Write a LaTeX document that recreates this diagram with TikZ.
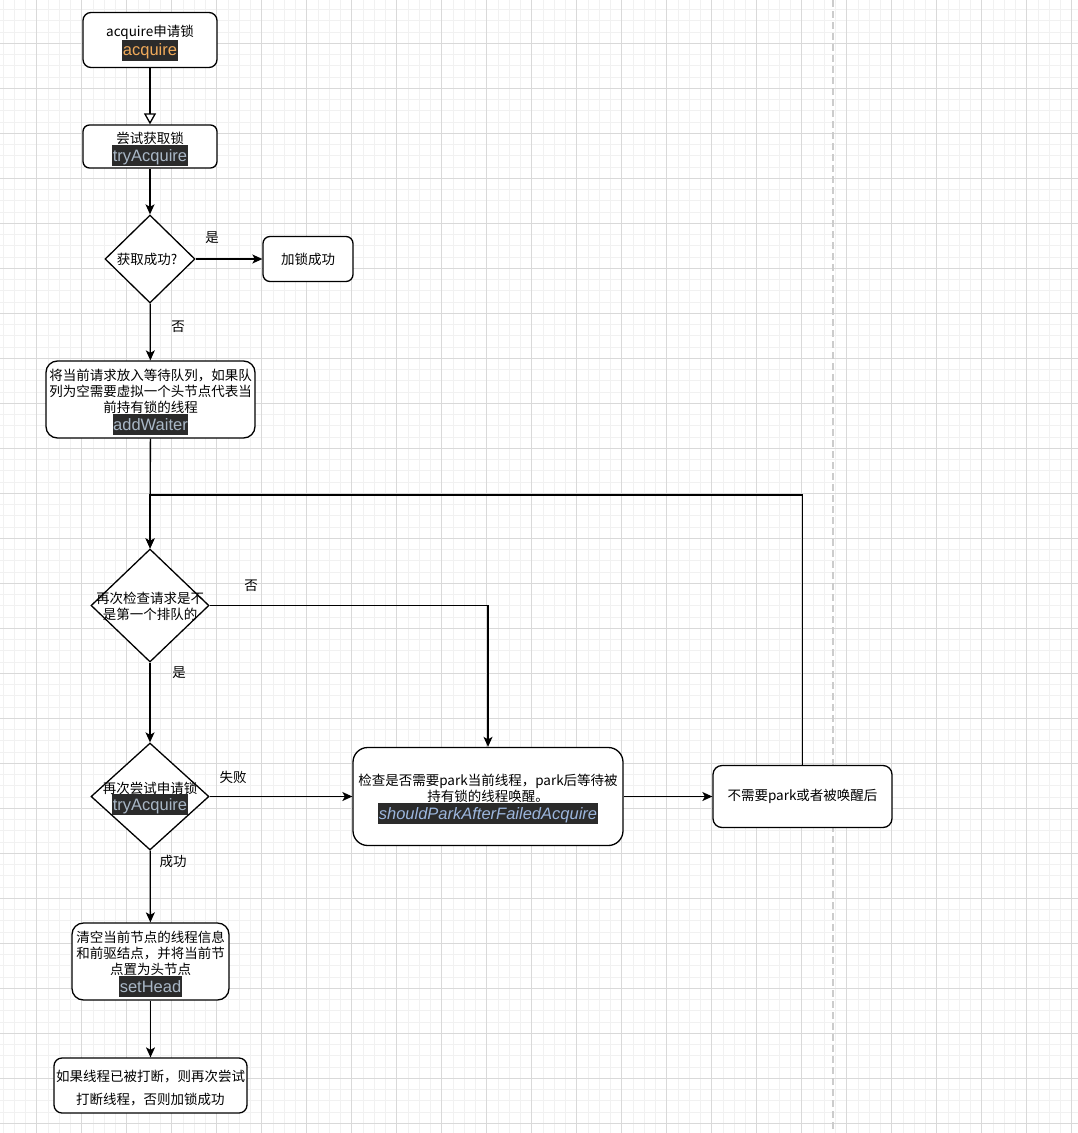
\documentclass[tikz,border=0pt]{standalone}
\usepackage{fontspec}
\setmainfont{Noto Sans CJK SC}
\newfontfamily\codefont{Liberation Sans}
\usetikzlibrary{shapes.geometric,arrows.meta}
\definecolor{codebg}{HTML}{2B2B2B}
\definecolor{codefg}{HTML}{A9B7C6}
\definecolor{spfg}{HTML}{9CB6DD}
\definecolor{codeorange}{HTML}{F0AA5A}
\definecolor{gridminor}{HTML}{F1F1F1}
\definecolor{gridmajor}{HTML}{D9D9D9}
\definecolor{dashgray}{HTML}{CCCCCC}
\newcommand\hlcode[2]{{\setlength{\fboxsep}{0.5pt}\colorbox{codebg}{\codefont\fontsize{16.5}{19}\selectfont\color{#1}\rule[-4.5pt]{0pt}{20pt}#2}}}
\newcommand\basefont{\fontsize{13.5}{16}\selectfont\lineskip=0pt\relax}
\newcommand\toppad{\rule{0pt}{17pt}}
\begin{document}
\begin{tikzpicture}[x=1pt,y=-1pt,
  every node/.style={font=\basefont},
  box/.style={draw, line width=1.3pt, rounded corners=#1, fill=white, inner sep=0pt, align=center},
  box/.default=8pt,
  dia/.style={draw, diamond, line width=1.3pt, fill=white, inner sep=0pt},
  txt/.style={align=center, inner sep=0pt},
  lbl/.style={inner sep=0pt},
  arr/.style={line width=1.3pt, -{Stealth[length=10pt, width=9pt, inset=2.5pt]}},
  openarr/.style={line width=1.3pt, -{Triangle[length=11pt, width=12pt, fill=white, line width=1.3pt]}}
]
\useasboundingbox (0,0) rectangle (1078,1133);
\fill[white] (0,0) rectangle (1078,1133);
% grid
\foreach \i in {0,...,95} \draw[gridminor, line width=0.8pt] ({2.95+11.25*\i},0) -- ++(0,1133);
\foreach \j in {0,...,100} \draw[gridminor, line width=0.8pt] (0,{9.55+11.25*\j}) -- ++(1078,0);
\foreach \i in {0,...,23} \draw[gridmajor, line width=0.8pt] ({36.7+45*\i},0) -- ++(0,1133);
\foreach \j in {0,...,24} \draw[gridmajor, line width=0.8pt] (0,{43.3+45*\j}) -- ++(1078,0);
\draw[dashgray, line width=2pt, dash pattern=on 7pt off 4pt] (833,0) -- (833,1133);

% nodes
\node[box=8pt, minimum width=134pt, minimum height=55pt] (acq) at (150,40) {\toppad acquire申请锁\\\hlcode{codeorange}{acquire}};
\node[box=6.5pt, minimum width=134pt, minimum height=43pt] (try) at (150,146.5) {\toppad 尝试获取锁\\\hlcode{codefg}{tryAcquire}};
\node[dia, minimum width=90pt, minimum height=88pt] (d1) at (150,259) {};
\node[txt] (d1t) at (147,259) {获取成功?};
\node[box=7pt, minimum width=90pt, minimum height=45pt] (ok) at (308,259) {加锁成功};
\node[box=11.5pt, minimum width=209pt, minimum height=77pt] (aw) at (150.5,399.5) {\toppad 将当前请求放入等待队列，如果队\\列为空需要虚拟一个头节点代表当\\前持有锁的线程\\\hlcode{codefg}{addWaiter}};
\node[dia, minimum width=118pt, minimum height=113pt] (d2) at (150,605.5) {};
\node[txt] (d2t) at (150,606.5) {再次检查请求是不\\是第一个排队的};
\node[dia, minimum width=118pt, minimum height=107pt] (d3) at (150,796.5) {};
\node[txt] (d3t) at (150,798.5) {再次尝试申请锁\\\hlcode{codefg}{tryAcquire}};
\node[box=14.7pt, minimum width=270pt, minimum height=98pt] (sp) at (488,796.5) {\toppad 检查是否需要park当前线程，park后等待被\\持有锁的线程唤醒。\\\hlcode{spfg}{\itshape shouldParkAfterFailedAcquire}};
\node[box=9pt, minimum width=179pt, minimum height=62pt] (rb) at (802.5,796.5) {不需要park或者被唤醒后};
\node[box=11.5pt, minimum width=157pt, minimum height=77pt] (sh) at (150.5,961.5) {\toppad 清空当前节点的线程信息\\和前驱结点，并将当前节\\点置为头节点\\\hlcode{codefg}{setHead}};
\node[box=8pt, minimum width=193pt, minimum height=55pt, font=\fontsize{13.5}{23}\selectfont] (bt) at (150.5,1085.5) {\rule{0pt}{16pt}如果线程已被打断，则再次尝试\\打断线程，否则加锁成功};

% labels
\node[lbl] (l1) at (212,238) {是};
\node[lbl] (l2) at (178,327) {否};
\node[lbl] (l3) at (251,586) {否};
\node[lbl] (l4) at (179,673) {是};
\node[lbl] (l5) at (233,777) {失败};
\node[lbl] (l6) at (173,861) {成功};

% connectors
\coordinate (lp) at (150,495);
\draw[openarr] (acq) -- (try);
\draw[arr] (try) -- (d1);
\draw[arr] (d1) -- (ok);
\draw[arr] (d1) -- (aw);
\draw[arr] (aw) -- (d2);
\draw[arr] (rb.north) |- (lp) -- (d2.north);
\draw[arr] (d2.east) -| (sp.north);
\draw[arr] (d2) -- (d3);
\draw[arr] (d3) -- (sp);
\draw[arr] (d3) -- (sh);
\draw[arr] (sp) -- (rb);
\draw[arr] (sh) -- (bt);
\end{tikzpicture}
\end{document}
